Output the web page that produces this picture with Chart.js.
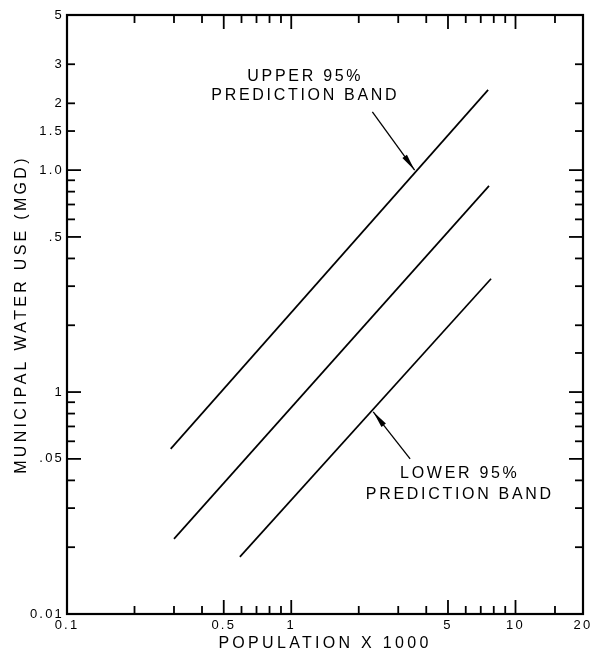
<!DOCTYPE html>
<html>
<head>
<meta charset="utf-8">
<script src="https://cdn.jsdelivr.net/npm/chart.js@4/dist/chart.umd.min.js"></script>
<style>
  html, body { margin: 0; padding: 0; background: #ffffff; }
  #wrap { width: 596px; height: 657px; }
</style>
</head>
<body>
<div id="wrap"><canvas id="c" width="596" height="657"></canvas></div>
<script>
// ---- data (population in thousands, water use in MGD) ----
const upperBandX = [0.29, 7.55];
const upperBandY = [0.0555, 2.30];
const fitLineX   = [0.30, 7.62];
const fitLineY   = [0.0218, 0.849];
const lowerBandX = [0.59, 7.78];
const lowerBandY = [0.0181, 0.324];

// ---- tick labels ----
const xTickValues = [0.1, 0.5, 1, 5, 10, 20];
const xTickLabels = ['0.1', '0.5', '1', '5', '10', '20'];
const yTickValues = [0.01, 0.05, 0.1, 0.5, 1, 1.5, 2, 3, 5];
const yTickLabels = ['0.01', '.05', '1', '.5', '1.0', '1.5', '2', '3', '5'];

// ---- tick marks (inward, on all four sides) ----
const xMajorTicks = [0.5, 1, 5, 10];
const xMinorTicks = [0.2, 0.3, 0.4, 0.6, 0.7, 0.8, 0.9, 2, 3, 4, 6, 7, 8, 9, 15];
const yMajorTicks = [0.05, 0.1, 0.5, 1];
const yMinorTicksLeft  = [0.02, 0.03, 0.04, 0.06, 0.07, 0.08, 0.09, 0.2, 0.3, 0.4, 0.6, 0.7, 0.8, 0.9, 1.5, 2, 3];
const yMinorTicksRight = [0.02, 0.03, 0.04, 0.06, 0.07, 0.08, 0.09, 0.15, 0.2, 0.3, 0.4, 0.6, 0.7, 0.8, 0.9, 1.5, 2, 3];

// ---- annotations (anchored in data coordinates) ----
const upperLabelLines = ['UPPER 95%', 'PREDICTION BAND'];
const upperLabelX = 1.14;
const upperLabelY = [2.63, 2.16];
const upperArrowFrom = [2.3, 1.83];
const upperArrowTo   = [3.55, 1.0];
const lowerLabelLines = ['LOWER 95%', 'PREDICTION BAND'];
const lowerLabelX = 5.57;
const lowerLabelY = [0.0428, 0.0346];
const lowerArrowFrom = [3.39, 0.050];
const lowerArrowTo   = [2.32, 0.0815];

const FONT = '"Liberation Sans", Arial, sans-serif';
const toPts = (xs, ys) => xs.map((x, i) => ({ x: x, y: ys[i] }));

const lineStyle = { borderColor: '#000', borderWidth: 1.7, pointRadius: 0, fill: false, tension: 0 };

const framePlugin = {
  id: 'frameAndAnnotations',
  afterLayout(chart) {
    Object.values(chart.scales).forEach(s => {
      if (s._lsPatched) return;
      s._lsPatched = true;
      const dl = s.drawLabels.bind(s);
      const dt = s.drawTitle.bind(s);
      s.drawLabels = function (area) {
        const c = this.ctx; c.save(); c.letterSpacing = '2.2px'; dl(area); c.restore();
      };
      s.drawTitle = function () {
        const c = this.ctx; c.save(); c.letterSpacing = '3.3px'; dt(); c.restore();
      };
    });
  },
  afterDatasetsDraw(chart) {
    const ctx = chart.ctx;
    const a = chart.chartArea;
    const xs = chart.scales.x, ys = chart.scales.y;
    ctx.save();
    ctx.strokeStyle = '#000';
    ctx.fillStyle = '#000';
    // frame
    ctx.lineWidth = 2.2;
    ctx.strokeRect(a.left, a.top, a.right - a.left, a.bottom - a.top);
    // tick marks
    ctx.lineWidth = 1.8;
    const MAJ = 14, MIN = 8;
    const hTick = (v, len, side) => {
      const px = xs.getPixelForValue(v);
      ctx.beginPath();
      if (side === 'bottom') { ctx.moveTo(px, a.bottom); ctx.lineTo(px, a.bottom - len); }
      else { ctx.moveTo(px, a.top); ctx.lineTo(px, a.top + len); }
      ctx.stroke();
    };
    const vTick = (v, len, side) => {
      const py = ys.getPixelForValue(v);
      ctx.beginPath();
      if (side === 'left') { ctx.moveTo(a.left, py); ctx.lineTo(a.left + len, py); }
      else { ctx.moveTo(a.right, py); ctx.lineTo(a.right - len, py); }
      ctx.stroke();
    };
    ['bottom', 'top'].forEach(side => {
      xMajorTicks.forEach(v => hTick(v, MAJ, side));
      xMinorTicks.forEach(v => hTick(v, MIN, side));
    });
    yMajorTicks.forEach(v => { vTick(v, MAJ, 'left'); vTick(v, MAJ, 'right'); });
    yMinorTicksLeft.forEach(v => vTick(v, MIN, 'left'));
    yMinorTicksRight.forEach(v => vTick(v, MIN, 'right'));

    // arrows
    const arrow = (from, to) => {
      const x1 = xs.getPixelForValue(from[0]), y1 = ys.getPixelForValue(from[1]);
      const x2 = xs.getPixelForValue(to[0]), y2 = ys.getPixelForValue(to[1]);
      ctx.lineWidth = 1.3;
      ctx.beginPath(); ctx.moveTo(x1, y1); ctx.lineTo(x2, y2); ctx.stroke();
      const ang = Math.atan2(y2 - y1, x2 - x1);
      const L = 17, W = 2.8;
      const bx = x2 - L * Math.cos(ang), by = y2 - L * Math.sin(ang);
      ctx.beginPath();
      ctx.moveTo(x2, y2);
      ctx.lineTo(bx + W * Math.sin(ang), by - W * Math.cos(ang));
      ctx.lineTo(bx - W * Math.sin(ang), by + W * Math.cos(ang));
      ctx.closePath();
      ctx.fill();
    };
    arrow(upperArrowFrom, upperArrowTo);
    arrow(lowerArrowFrom, lowerArrowTo);

    // annotation text
    ctx.font = '16px ' + FONT;
    ctx.letterSpacing = '2.7px';
    ctx.textAlign = 'center';
    ctx.textBaseline = 'middle';
    upperLabelLines.forEach((t, i) => {
      ctx.fillText(t, xs.getPixelForValue(upperLabelX) + 1.3, ys.getPixelForValue(upperLabelY[i]));
    });
    lowerLabelLines.forEach((t, i) => {
      ctx.fillText(t, xs.getPixelForValue(lowerLabelX) + 1.3, ys.getPixelForValue(lowerLabelY[i]));
    });
    ctx.restore();
  }
};

new Chart(document.getElementById('c'), {
  type: 'line',
  data: {
    datasets: [
      Object.assign({ label: 'Upper 95% prediction band', data: toPts(upperBandX, upperBandY) }, lineStyle),
      Object.assign({ label: 'Regression line', data: toPts(fitLineX, fitLineY) }, lineStyle),
      Object.assign({ label: 'Lower 95% prediction band', data: toPts(lowerBandX, lowerBandY) }, lineStyle)
    ]
  },
  options: {
    responsive: false,
    devicePixelRatio: 1,
    animation: false,
    layout: { padding: { top: 15, right: 13, bottom: 0, left: 0 } },
    plugins: { legend: { display: false }, tooltip: { enabled: false } },
    scales: {
      x: {
        type: 'logarithmic',
        min: 0.1,
        max: 20,
        grid: { display: false, drawTicks: false },
        border: { display: false },
        afterBuildTicks(scale) { scale.ticks = xTickValues.map(v => ({ value: v })); },
        afterFit(scale) { scale.height = 43; },
        ticks: {
          autoSkip: false,
          maxRotation: 0,
          padding: 4,
          color: '#000',
          font: { family: FONT, size: 13 },
          callback(value) {
            const i = xTickValues.indexOf(value);
            return i >= 0 ? xTickLabels[i] : '';
          }
        },
        title: {
          display: true,
          text: 'POPULATION X 1000',
          color: '#000',
          font: { family: FONT, size: 16 },
          padding: { top: 0, bottom: 4 }
        }
      },
      y: {
        type: 'logarithmic',
        min: 0.01,
        max: 5,
        grid: { display: false, drawTicks: false },
        border: { display: false },
        afterBuildTicks(scale) { scale.ticks = yTickValues.map(v => ({ value: v })); },
        afterFit(scale) { scale.width = 67; },
        ticks: {
          autoSkip: false,
          padding: 3,
          color: '#000',
          font: { family: FONT, size: 13 },
          callback(value) {
            const i = yTickValues.indexOf(value);
            return i >= 0 ? yTickLabels[i] : '';
          }
        },
        title: {
          display: true,
          text: 'MUNICIPAL WATER USE (MGD)',
          color: '#000',
          font: { family: FONT, size: 16 },
          padding: { top: 12, bottom: 0 }
        }
      }
    }
  },
  plugins: [framePlugin]
});
</script>
</body>
</html>
